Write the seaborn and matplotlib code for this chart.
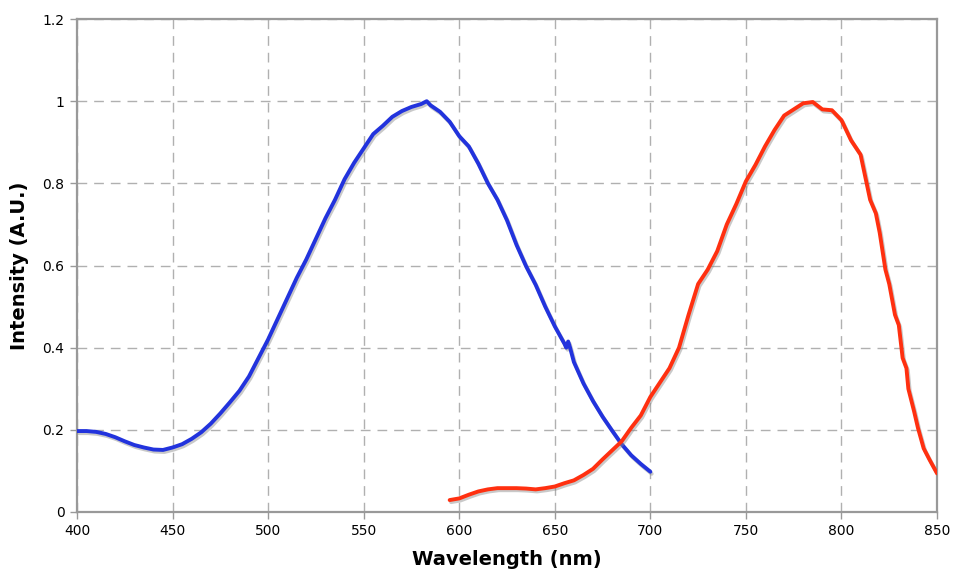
import numpy as np
import pandas as pd
import matplotlib
matplotlib.use("Agg")
import matplotlib.pyplot as plt
import matplotlib.patheffects as pe
from matplotlib.ticker import FuncFormatter
import seaborn as sns

blue_nm = [400, 405, 410, 415, 420, 425, 430, 435, 440, 445, 450, 455, 460, 465, 470,
           475, 480, 485, 490, 495, 500, 505, 510, 515, 520, 525, 530, 535, 540, 545,
           550, 555, 560, 565, 570, 575, 580, 583, 585, 590, 595, 600, 605, 610, 615,
           620, 625, 630, 635, 640, 645, 650, 655, 656, 657, 658, 660, 665, 670, 675,
           680, 685, 690, 695, 700]
blue_val = [0.197, 0.197, 0.195, 0.190, 0.182, 0.172, 0.163, 0.157, 0.152, 0.151, 0.157,
            0.165, 0.178, 0.194, 0.215, 0.240, 0.267, 0.295, 0.33, 0.375, 0.42, 0.47,
            0.52, 0.57, 0.615, 0.665, 0.715, 0.76, 0.81, 0.85, 0.885, 0.92, 0.94,
            0.962, 0.976, 0.986, 0.993, 1.0, 0.99, 0.974, 0.95, 0.915, 0.89, 0.848,
            0.80, 0.76, 0.71, 0.65, 0.598, 0.553, 0.50, 0.452, 0.41, 0.40, 0.415,
            0.40, 0.365, 0.313, 0.27, 0.232, 0.198, 0.165, 0.138, 0.117, 0.098]

red_nm = [595, 600, 605, 610, 615, 620, 625, 630, 635, 640, 645, 650, 655, 660, 665,
          670, 675, 680, 685, 690, 695, 700, 705, 710, 715, 720, 725, 730, 735, 740,
          745, 750, 755, 760, 765, 770, 775, 780, 785, 790, 795, 800, 805, 810, 815,
          818, 820, 823, 825, 828, 830, 832, 834, 835, 838, 840, 843, 846, 850]
red_val = [0.029, 0.033, 0.042, 0.05, 0.055, 0.058, 0.058, 0.058, 0.057, 0.055, 0.058,
           0.062, 0.07, 0.077, 0.09, 0.105, 0.128, 0.15, 0.172, 0.205, 0.235, 0.28,
           0.315, 0.35, 0.40, 0.48, 0.555, 0.59, 0.635, 0.70, 0.75, 0.805, 0.845,
           0.89, 0.93, 0.965, 0.98, 0.995, 0.998, 0.98, 0.978, 0.954, 0.905, 0.87,
           0.76, 0.727, 0.68, 0.59, 0.555, 0.48, 0.455, 0.375, 0.35, 0.30, 0.245,
           0.205, 0.155, 0.128, 0.094]

x_ticks = [400, 450, 500, 550, 600, 650, 700, 750, 800, 850]
y_ticks = [0, 0.2, 0.4, 0.6, 0.8, 1.0, 1.2]

sns.set_theme(style="white")
plt.rcParams['font.family'] = ['DejaVu Sans']

fig = plt.figure(figsize=(9.54, 5.77), dpi=100)
ax = fig.add_axes([0.0807, 0.1127, 0.9015, 0.8543])

df_blue = pd.DataFrame({"nm": blue_nm, "val": blue_val})
df_red = pd.DataFrame({"nm": red_nm, "val": red_val})

shadow = [pe.SimpleLineShadow(offset=(1.0, -1.5), shadow_color="#888888", alpha=0.45),
          pe.Normal()]
sns.lineplot(data=df_blue, x="nm", y="val", ax=ax, color="#2233dd", linewidth=2.8,
             path_effects=shadow, zorder=3)
sns.lineplot(data=df_red, x="nm", y="val", ax=ax, color="#ff3010", linewidth=2.8,
             path_effects=shadow, zorder=3)

ax.set_xlim(400, 850)
ax.set_ylim(0, 1.2)
ax.set_xticks(x_ticks)
ax.set_yticks(y_ticks)
ax.yaxis.set_major_formatter(FuncFormatter(lambda v, p: f"{v:g}"))
ax.grid(True, color="#b0b0b0", linestyle=(0, (7, 5)), linewidth=1.0, zorder=0)
ax.set_axisbelow(True)

for s in ax.spines.values():
    s.set_color("#999999")
    s.set_linewidth(1.6)
    s.set_visible(True)

ax.tick_params(axis="both", direction="out", length=5, width=1, color="#999999",
               labelsize=10, labelcolor="black", bottom=True, left=True, pad=4)

ax.set_xlabel("Wavelength (nm)", fontsize=14, fontweight="bold", labelpad=8, color="black")
ax.set_ylabel("Intensity (A.U.)", fontsize=14, fontweight="bold", labelpad=10, color="black")

fig.savefig("out.png", dpi=100)
